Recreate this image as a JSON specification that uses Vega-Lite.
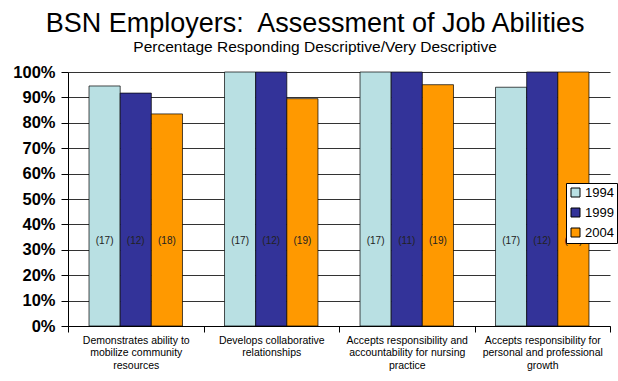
{
  "$schema": "https://vega.github.io/schema/vega-lite/v6.json",
  "width": 542,
  "height": 254,
  "autosize": {"type": "none"},
  "padding": {"left": 68, "top": 72, "right": 8, "bottom": 55},
  "background": "white",
  "title": {
    "text": "BSN Employers:\u00a0 Assessment of Job Abilities",
    "subtitle": "Percentage Responding Descriptive/Very Descriptive",
    "anchor": "middle",
    "frame": "bounds",
    "font": "Liberation Sans",
    "fontSize": 27,
    "fontWeight": "normal",
    "color": "black",
    "subtitleFont": "Liberation Sans",
    "subtitleFontSize": 15.5,
    "subtitleColor": "black",
    "subtitlePadding": 2,
    "offset": 8
  },
  "data": {
    "values": [
      {"category": "Demonstrates ability to|mobilize community|resources", "year": "1994", "value": 0.945, "n": "(17)"},
      {"category": "Demonstrates ability to|mobilize community|resources", "year": "1999", "value": 0.917, "n": "(12)"},
      {"category": "Demonstrates ability to|mobilize community|resources", "year": "2004", "value": 0.835, "n": "(18)"},
      {"category": "Develops collaborative|relationships", "year": "1994", "value": 1.0, "n": "(17)"},
      {"category": "Develops collaborative|relationships", "year": "1999", "value": 1.0, "n": "(12)"},
      {"category": "Develops collaborative|relationships", "year": "2004", "value": 0.895, "n": "(19)"},
      {"category": "Accepts responsibility and|accountability for nursing|practice", "year": "1994", "value": 1.0, "n": "(17)"},
      {"category": "Accepts responsibility and|accountability for nursing|practice", "year": "1999", "value": 1.0, "n": "(11)"},
      {"category": "Accepts responsibility and|accountability for nursing|practice", "year": "2004", "value": 0.95, "n": "(19)"},
      {"category": "Accepts responsibility for|personal and professional|growth", "year": "1994", "value": 0.94, "n": "(17)"},
      {"category": "Accepts responsibility for|personal and professional|growth", "year": "1999", "value": 1.0, "n": "(12)"},
      {"category": "Accepts responsibility for|personal and professional|growth", "year": "2004", "value": 1.0, "n": "(19)"}
    ]
  },
  "encoding": {
    "x": {
      "field": "category",
      "type": "nominal",
      "sort": null,
      "scale": {"paddingInner": 0, "paddingOuter": 0},
      "axis": {
        "title": null,
        "labelAngle": 0,
        "labelExpr": "split(datum.label, '|')",
        "labelFont": "Liberation Sans",
        "labelFontSize": 10.5,
        "labelColor": "black",
        "labelLineHeight": 12.5,
        "labelPadding": 3,
        "labelLimit": 200,
        "tickBand": "extent",
        "ticks": true,
        "tickSize": 6,
        "tickColor": "black",
        "domainColor": "black",
        "grid": false
      }
    },
    "xOffset": {
      "field": "year",
      "type": "nominal",
      "scale": {"paddingInner": 0, "paddingOuter": 0.675}
    }
  },
  "layer": [
    {
      "mark": {"type": "bar", "stroke": "black", "strokeWidth": 0.7},
      "encoding": {
        "y": {
          "field": "value",
          "type": "quantitative",
          "scale": {"domain": [0, 1], "nice": false},
          "axis": {
            "title": null,
            "format": ".0%",
            "values": [0, 0.1, 0.2, 0.3, 0.4, 0.5, 0.6, 0.7, 0.8, 0.9, 1.0],
            "labelFont": "Liberation Sans",
            "labelFontSize": 16.5,
            "labelFontWeight": "bold",
            "labelColor": "black",
            "labelPadding": 6,
            "labelOverlap": false,
            "tickSize": 7,
            "tickColor": "black",
            "domainColor": "black",
            "grid": true,
            "gridColor": "#333333",
            "gridOpacity": 1
          }
        },
        "color": {
          "field": "year",
          "type": "nominal",
          "scale": {"domain": ["1994", "1999", "2004"], "range": ["#B9E0E3", "#333399", "#FF9900"]},
          "legend": {
            "title": null,
            "orient": "none",
            "legendX": 498,
            "legendY": 111,
            "fillColor": "white",
            "strokeColor": "black",
            "padding": 3,
            "symbolType": "square",
            "symbolSize": 81,
            "symbolStrokeColor": "black",
            "symbolStrokeWidth": 1,
            "symbolOpacity": 1,
            "labelFont": "Liberation Sans",
            "labelFontSize": 13,
            "labelColor": "black",
            "labelOffset": 3,
            "rowPadding": 6
          }
        }
      }
    },
    {
      "mark": {"type": "text", "font": "Liberation Sans", "fontSize": 10, "color": "#222222", "baseline": "middle"},
      "encoding": {
        "y": {"datum": 0.333, "type": "quantitative", "axis": null},
        "text": {"field": "n"}
      }
    }
  ],
  "resolve": {"axis": {"y": "independent"}},
  "config": {
    "view": {"stroke": null}
  }
}
